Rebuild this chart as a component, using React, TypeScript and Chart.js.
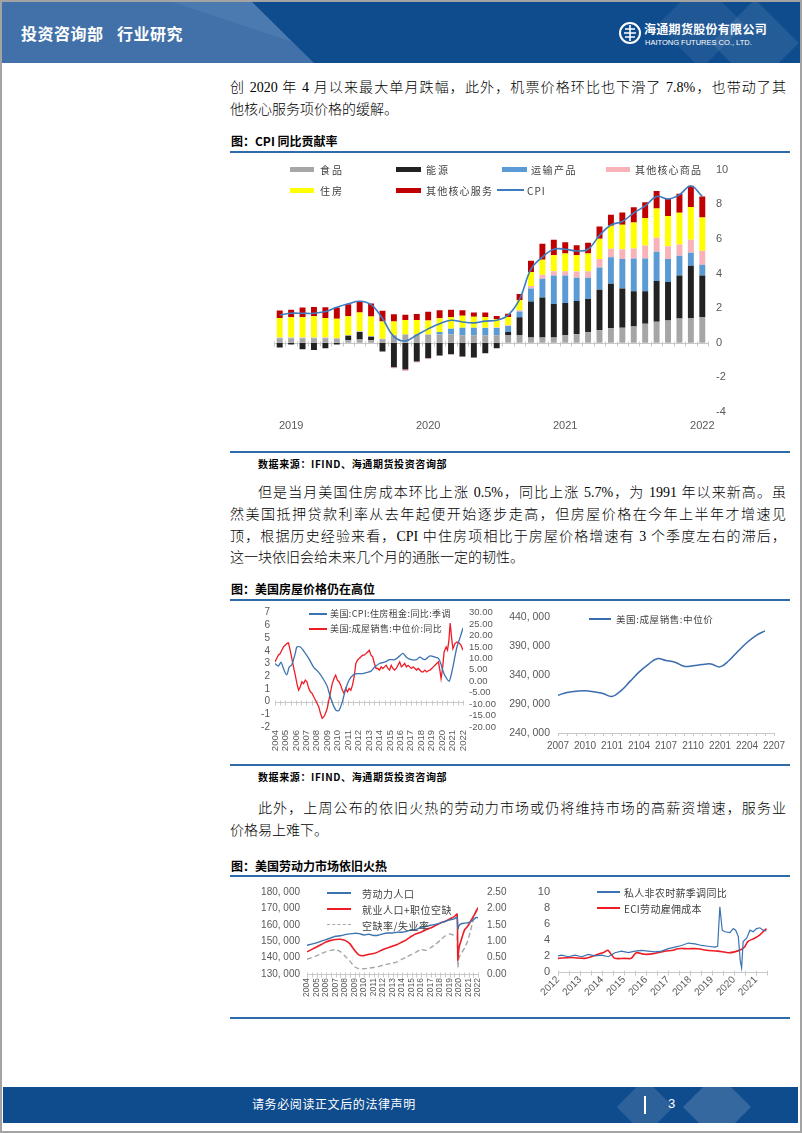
import React, { useEffect, useRef } from 'react';
import { Chart, registerables } from 'chart.js';

Chart.register(...registerables);
Chart.defaults.font.family = '"Liberation Sans", Arial, sans-serif';
Chart.defaults.color = '#595959';

// ---------------- Figure 1: CPI contribution ----------------
const cpiMonths = [
  '2019-06', '2019-07', '2019-08', '2019-09', '2019-10', '2019-11', '2019-12',
  '2020-01', '2020-02', '2020-03', '2020-04', '2020-05', '2020-06', '2020-07', '2020-08', '2020-09', '2020-10', '2020-11', '2020-12',
  '2021-01', '2021-02', '2021-03', '2021-04', '2021-05', '2021-06', '2021-07', '2021-08', '2021-09', '2021-10', '2021-11', '2021-12',
  '2022-01', '2022-02', '2022-03', '2022-04', '2022-05', '2022-06', '2022-07',
];
const foodContrib = [0.25, 0.25, 0.25, 0.25, 0.25, 0.21, 0.15, 0.19, 0.15, 0.19, 0.43, 0.47, 0.47, 0.47, 0.47, 0.47, 0.43, 0.43, 0.43, 0.43, 0.45, 0.45, 0.3, 0.3, 0.3, 0.45, 0.49, 0.6, 0.72, 0.83, 0.87, 0.94, 1.09, 1.21, 1.28, 1.4, 1.43, 1.49];
const energyContrib = [-0.28, -0.1, -0.38, -0.42, -0.32, -0.1, 0.25, 0.43, 0.19, -0.51, -1.42, -1.55, -1.08, -0.89, -0.74, -0.66, -0.79, -0.85, -0.6, -0.32, 0.17, 1.02, 2.08, 2.32, 1.94, 1.85, 1.92, 1.92, 2.34, 2.58, 2.26, 2.04, 1.89, 2.36, 2.23, 2.49, 3.02, 2.4];
const transportContrib = [0.02, 0.02, 0.02, 0.02, 0.02, 0.02, 0.02, 0.02, 0.02, 0.02, 0, 0, 0, 0, 0.15, 0.34, 0.43, 0.43, 0.42, 0.42, 0.34, 0.34, 0.75, 1.08, 1.64, 1.58, 1.34, 1.23, 1.28, 1.53, 1.7, 1.89, 1.89, 1.68, 1.32, 1.13, 0.75, 0.62];
const otherGoodsContrib = [0.03, 0.03, 0.03, 0.03, 0.03, 0.03, 0.03, 0.03, 0.03, 0.02, -0.06, -0.08, -0.06, -0.04, -0.03, -0.02, -0.03, -0.03, 0.02, 0.03, 0.05, 0.06, 0.15, 0.23, 0.25, 0.25, 0.36, 0.38, 0.49, 0.49, 0.57, 0.57, 0.75, 0.81, 0.75, 0.66, 0.75, 0.81];
const housingContrib = [1.13, 1.17, 1.17, 1.23, 1.13, 1.13, 1.08, 1.08, 1.13, 1.0, 0.79, 0.85, 0.85, 0.81, 0.79, 0.66, 0.7, 0.64, 0.62, 0.49, 0.47, 0.6, 0.8, 0.87, 0.92, 1.02, 0.94, 1.02, 1.17, 1.32, 1.42, 1.51, 1.58, 1.7, 1.74, 1.83, 1.89, 1.92];
const otherServicesContrib = [0.43, 0.43, 0.57, 0.53, 0.62, 0.64, 0.7, 0.66, 0.75, 0.62, 0.43, 0.3, 0.34, 0.51, 0.47, 0.43, 0.32, 0.25, 0.25, 0.17, 0.19, 0.34, 0.66, 0.92, 0.9, 0.66, 0.58, 0.62, 0.72, 0.64, 0.7, 0.87, 0.91, 1.0, 1.0, 1.09, 1.23, 1.21];
const cpiYoY = [1.6, 1.7, 1.7, 1.7, 1.8, 2.05, 2.25, 2.4, 2.2, 1.4, 0.35, 0.1, 0.45, 0.8, 1.1, 1.3, 1.2, 1.15, 1.25, 1.3, 1.6, 2.5, 4.25, 4.95, 5.4, 5.4, 5.3, 5.4, 6.2, 6.8, 7.0, 7.5, 7.9, 8.45, 8.3, 8.55, 9.05, 8.45];

// ---------------- Figure 2a: rent CPI vs home price YoY ----------------
const rentDates = [2004.0, 2004.32, 2004.58, 2004.81, 2005.13, 2005.35, 2005.61, 2005.94, 2006.1, 2006.42, 2006.74, 2007.23, 2007.71, 2008.19, 2008.68, 2009.0, 2009.32, 2009.65, 2009.87, 2010.13, 2010.45, 2010.77, 2011.1, 2011.48, 2011.9, 2012.39, 2012.87, 2013.19, 2013.52, 2014.0, 2014.48, 2014.97, 2015.45, 2015.94, 2016.26, 2016.58, 2017.06, 2017.55, 2017.87, 2018.35, 2018.84, 2019.32, 2019.65, 2019.87, 2020.13, 2020.45, 2020.68, 2020.84, 2021.1, 2021.42, 2021.74, 2022.0];
const rentYoY = [3.0, 2.8, 3.1, 2.6, 2.1, 2.7, 2.9, 3.8, 4.3, 4.3, 4.0, 3.4, 2.7, 2.3, 1.7, 1.2, 0.3, -0.4, -0.7, -0.7, 0.0, 1.0, 1.7, 2.1, 2.2, 2.2, 2.3, 2.4, 2.7, 3.0, 3.1, 3.3, 3.3, 3.6, 3.8, 3.5, 3.3, 3.3, 3.5, 3.3, 3.6, 3.5, 3.4, 3.0, 2.3, 1.8, 1.6, 2.0, 3.0, 4.3, 5.1, 5.8];
const homePriceYoYDates = [
  2004.0, 2004.16, 2004.32, 2004.48, 2004.65, 2004.81, 2004.97, 2005.13, 2005.29, 2005.45,
  2005.61, 2005.77, 2005.94, 2006.1, 2006.26, 2006.42, 2006.58, 2006.74, 2006.9, 2007.06,
  2007.23, 2007.39, 2007.55, 2007.71, 2007.87, 2008.03, 2008.19, 2008.35, 2008.52, 2008.68,
  2008.84, 2009.0, 2009.16, 2009.32, 2009.48, 2009.65, 2009.81, 2009.97, 2010.13, 2010.29,
  2010.45, 2010.61, 2010.77, 2010.94, 2011.1, 2011.26, 2011.42, 2011.58, 2011.74, 2011.9,
  2012.06, 2012.23, 2012.39, 2012.55, 2012.71, 2012.87, 2013.03, 2013.19, 2013.35, 2013.52,
  2013.68, 2013.84, 2014.0, 2014.16, 2014.32, 2014.48, 2014.65, 2014.81, 2014.97, 2015.13,
  2015.29, 2015.45, 2015.61, 2015.77, 2015.94, 2016.1, 2016.26, 2016.42, 2016.58, 2016.74,
  2016.9, 2017.06, 2017.23, 2017.39, 2017.55, 2017.71, 2017.87, 2018.03, 2018.19, 2018.35,
  2018.52, 2018.68, 2018.84, 2019.0, 2019.16, 2019.32, 2019.48, 2019.65, 2019.81,
  2019.9, 2020.06, 2020.19, 2020.39, 2020.52, 2020.65, 2020.77, 2020.9, 2021.03, 2021.23, 2021.42, 2021.61, 2021.81, 2022.0,
];
const homePriceYoY = [
  8.5, 10, 11.4, 12, 13.6, 15, 15.8, 16.5, 16.8, 13.6,
  10, 6.3, 2.7, -1, -3.9, -2.4, -0.2, -1, 0.5, -0.2,
  -3.1, -4.6, -5.3, -6.8, -8.2, -9.7, -11.1, -14, -16.2, -15.5,
  -14, -11.9, -8.2, -4.6, -1, 1.2, 2.7, 0.5, -0.2, -1.7,
  -3.9, -5.3, -3.1, -4.6, -3.1, -3.9, -1.7, 2, 7.8, 9.2,
  10, 10.7, 11.4, 11.4, 12.1, 12.8, 13.6, 11.4, 10.7, 7.8,
  5.6, 5.6, 4.9, 6.3, 5.6, 6.3, 7, 5.6, 4.9, 7,
  5.6, 4.9, 5.6, 7, 8.5, 6.3, 7, 7.8, 6.3, 7,
  6.3, 5.6, 6.3, 5.6, 4.9, 5.6, 4.9, 4.1, 4.1, 4.9,
  4.1, 4.6, 4.9, 5.6, 6.3, 7, 7.8, 8.5, 4.1,
  1.2, 6.3, 12.8, 15, 13.6, 17.9, 25.5, 19.4, 14.3, 16.5, 17.2, 16.8, 15.8, 13.6,
];

// ---------------- Figure 2b: median existing home price ----------------
const priceMonths = ['2007', '2008', '2009', '2010', '2011', '2012', '2101', '2102', '2103', '2104', '2105', '2106', '2107', '2108', '2109', '2110', '2111', '2112', '2201', '2202', '2203', '2204', '2205', '2206', '2207'];
const medianPrice = [305000, 310000, 312000, 313000, 311000, 308000, 303000, 313000, 329000, 345000, 358000, 368000, 365000, 362000, 355000, 356000, 358000, 359000, 354000, 365000, 381000, 396000, 408000, 416000];

// ---------------- Figure 3a: labor force ----------------
const laborDates = [2004, 2004.5, 2005, 2005.5, 2006, 2006.5, 2007, 2007.5, 2008, 2008.5, 2009, 2009.5, 2010, 2010.5, 2011, 2011.5, 2012, 2012.5, 2013, 2013.5, 2014, 2014.5, 2015, 2015.5, 2016, 2016.5, 2017, 2017.5, 2018, 2018.5, 2019, 2019.5, 2019.8, 2019.88, 2020, 2020.3, 2020.6, 2020.9, 2021.2, 2021.5, 2021.8, 2022];
const laborForce = [147500, 148200, 149000, 150000, 151000, 152000, 153000, 153300, 154000, 154500, 154800, 154600, 153800, 154200, 153500, 153600, 154500, 155000, 155000, 155500, 155500, 156000, 157000, 157200, 158500, 159000, 159700, 160200, 161000, 162000, 163000, 163600, 164600, 157500, 159500, 160800, 161000, 161200, 161800, 163000, 164500, 164200];
const employedPlusOpenings = [143500, 145000, 146500, 148000, 149500, 150500, 151000, 151200, 150500, 148500, 144500, 141500, 141200, 142000, 142500, 143500, 145000, 146000, 147000, 148000, 149500, 151000, 153000, 154500, 155500, 157000, 158000, 159500, 161000, 162000, 163500, 165000, 166500, 138500, 146000, 152000, 157000, 159000, 162000, 165000, 168000, 170500];
const vacancyToUnemp = [0.45, 0.5, 0.55, 0.62, 0.68, 0.72, 0.74, 0.68, 0.55, 0.4, 0.22, 0.16, 0.16, 0.18, 0.2, 0.22, 0.27, 0.3, 0.33, 0.37, 0.45, 0.52, 0.6, 0.67, 0.75, 0.72, 0.8, 0.9, 1.02, 1.15, 1.22, 1.18, 1.15, 0.2, 0.5, 0.65, 0.8, 1.0, 1.3, 1.65, 1.95, 2.0];

// ---------------- Figure 3b: wages ----------------
const wageDates = [2012.0, 2012.17, 2012.47, 2012.77, 2013.08, 2013.38, 2013.68, 2013.98, 2014.29, 2014.59, 2014.89, 2015.2, 2015.5, 2015.8, 2016.1, 2016.41, 2016.71, 2017.02, 2017.32, 2017.62, 2017.92, 2018.23, 2018.53, 2018.83, 2019.14, 2019.26, 2019.36, 2019.47, 2019.59, 2019.82, 2019.97, 2020.08, 2020.2, 2020.29, 2020.35, 2020.42, 2020.58, 2020.73, 2020.88, 2021.03, 2021.18, 2021.33, 2021.48];
const hourlyEarningsYoY = [2.0, 2.1, 1.9, 2.1, 1.9, 2.2, 2.0, 2.1, 1.9, 2.4, 2.6, 2.4, 2.6, 2.7, 2.6, 2.5, 2.6, 2.9, 3.1, 3.3, 3.6, 3.5, 3.3, 3.2, 3.1, 3.2, 8.1, 5.2, 5.0, 4.9, 5.4, 5.2, 4.4, 1.4, 0.5, 3.8, 4.2, 5.2, 5.0, 5.4, 5.5, 5.2, 5.1];
const eciDates = [2012.0, 2012.61, 2013.21, 2013.52, 2013.82, 2014.12, 2014.27, 2014.42, 2014.58, 2015.03, 2015.33, 2015.56, 2015.94, 2016.39, 2016.85, 2017.23, 2017.45, 2017.91, 2018.36, 2018.74, 2019.27, 2019.73, 2020.03, 2020.33, 2020.48, 2020.64, 2020.94, 2021.17, 2021.32, 2021.48];
const eciYoY = [1.7, 1.8, 1.7, 1.9, 2.2, 2.5, 2.7, 2.2, 1.7, 1.7, 1.7, 2.4, 2.2, 2.3, 2.6, 2.7, 2.9, 2.9, 2.9, 2.7, 2.6, 2.4, 2.5, 2.8, 3.1, 3.8, 4.2, 4.6, 5.0, 5.4];

// ---------------- helpers ----------------
const SERIF = '"Liberation Serif", "Noto Sans CJK SC", serif';
const CJK = '"Noto Sans CJK SC", "Liberation Sans", sans-serif';
const AXIS_GREY = '#595959';
const RULE = '#2f6aa9';

const pts = (xs: number[], ys: number[]) => ys.map((y, i) => ({ x: xs[i], y }));
const thousands = (v: number) => {
  const s = String(Math.round(v));
  return s.slice(0, -3) + ', ' + s.slice(-3);
};
const stepsBetween = (a: number, b: number, step: number) => {
  const out: number[] = [];
  for (let v = a; v <= b + 1e-9; v += step) out.push(v);
  return out;
};

function baseline(yId: string, yValue: number, marks: number[], color = '#c8c8c8', up = 2, down = 3) {
  return {
    id: 'baseline',
    beforeDatasetsDraw(chart: any) {
      const { ctx, chartArea, scales } = chart;
      const y = Math.round(scales[yId].getPixelForValue(yValue)) + 0.5;
      ctx.save();
      ctx.strokeStyle = color;
      ctx.lineWidth = 1;
      ctx.beginPath();
      ctx.moveTo(chartArea.left, y);
      ctx.lineTo(chartArea.right, y);
      for (const m of marks) {
        const x = Math.round(scales.x.getPixelForValue(m)) + 0.5;
        ctx.moveTo(x, y - up);
        ctx.lineTo(x, y + down);
      }
      ctx.stroke();
      ctx.restore();
    },
  };
}

function ChartCanvas({ left, top, width, height, make }: { left: number; top: number; width: number; height: number; make: () => any }) {
  const ref = useRef<HTMLCanvasElement | null>(null);
  useEffect(() => {
    if (!ref.current) return;
    const chart = new Chart(ref.current, make());
    return () => chart.destroy();
  }, []);
  return (
    <div style={{ position: 'absolute', left, top, width, height }}>
      <canvas ref={ref} />
    </div>
  );
}

type TxtProps = {
  x: number; y: number; size: number; children: React.ReactNode; color?: string; weight?: number;
  family?: string; spacing?: number; width?: number; justify?: boolean;
};
function Txt({ x, y, size, children, color = '#000', weight = 400, family = SERIF, spacing = 0, width, justify }: TxtProps) {
  const lh = Math.round(size * 1.5);
  return (
    <div
      style={{
        position: 'absolute', left: x, top: y - lh / 2, height: lh, lineHeight: `${lh}px`, fontSize: size,
        color, fontWeight: weight, fontFamily: family, letterSpacing: spacing, width,
        whiteSpace: justify ? 'normal' : 'nowrap', textAlign: justify ? 'justify' : 'left',
        textAlignLast: justify ? 'justify' : 'auto', overflow: 'visible',
      } as React.CSSProperties}
    >
      {children}
    </div>
  );
}

function Swatch({ x, y, w, kind, color }: { x: number; y: number; w: number; kind: 'bar' | 'line' | 'dash'; color: string }) {
  if (kind === 'bar') return <div style={{ position: 'absolute', left: x, top: y - 2.5, width: w, height: 5, background: color }} />;
  if (kind === 'line') return <div style={{ position: 'absolute', left: x, top: y - 1, width: w, height: 1.6, background: color }} />;
  return <div style={{ position: 'absolute', left: x, top: y - 1, width: w, height: 0, borderTop: `1.6px dashed ${color}` }} />;
}

function Rule({ y }: { y: number }) {
  return <div style={{ position: 'absolute', left: 230, top: y - 1, width: 560, height: 2, background: RULE }} />;
}

// ---------------- chart configs ----------------
const tickFont = (size: number) => ({ size, family: '"Liberation Sans", Arial, sans-serif' });
const noGrid = { display: false, drawTicks: false };

function makeCpiChart() {
  const barDs = (label: string, data: number[], color: string) => ({
    type: 'bar', label, data, backgroundColor: color, stack: 'contrib', order: 1,
    barPercentage: 0.52, categoryPercentage: 1,
  });
  return {
    type: 'bar',
    data: {
      labels: cpiMonths,
      datasets: [
        { type: 'line', label: 'CPI', data: cpiYoY, borderColor: '#3d7cc0', borderWidth: 1.6, pointRadius: 0, tension: 0.4, stack: 'cpi', order: 0, fill: false },
        barDs('食品', foodContrib, '#a6a6a6'),
        barDs('能源', energyContrib, '#222222'),
        barDs('运输产品', transportContrib, '#5b9bd5'),
        barDs('其他核心商品', otherGoodsContrib, '#f7b3b8'),
        barDs('住房', housingContrib, '#ffff00'),
        barDs('其他核心服务', otherServicesContrib, '#c00000'),
      ],
    },
    options: {
      animation: false, responsive: true, maintainAspectRatio: false,
      layout: { padding: { left: 44, top: 9, right: 52, bottom: 0 } },
      plugins: { legend: { display: false }, tooltip: { enabled: false } },
      scales: {
        x: {
          stacked: true, grid: noGrid, border: { display: false },
          ticks: {
            autoSkip: false, maxRotation: 0, minRotation: 0, padding: 7, color: AXIS_GREY, font: tickFont(11),
            callback: (_v: any, i: number) => (cpiMonths[i].endsWith('-07') ? cpiMonths[i].slice(0, 4) : ''),
          },
          afterFit: (s: any) => { s.height = 31; },
        },
        y: {
          position: 'right', stacked: true, min: -4, max: 10,
          ticks: { stepSize: 2, autoSkip: false, padding: 8, color: AXIS_GREY, font: tickFont(11) },
          grid: noGrid, border: { display: false },
          afterFit: (s: any) => { s.width = 30; },
        },
      },
    },
    plugins: [baseline('y', 0, cpiMonths.map((_m, i) => i - 0.5).concat([cpiMonths.length - 0.5]))],
  };
}

function makeRentChart() {
  return {
    type: 'line',
    data: {
      datasets: [
        { label: '美国:CPI:住房租金:同比:季调', data: pts(rentDates, rentYoY), yAxisID: 'y', borderColor: '#3a73b0', borderWidth: 1.3, pointRadius: 0, tension: 0.3 },
        { label: '美国:成屋销售:中位价:同比', data: pts(homePriceYoYDates, homePriceYoY), yAxisID: 'y1', borderColor: '#ee1c25', borderWidth: 1.3, pointRadius: 0, tension: 0 },
      ],
    },
    options: {
      animation: false, responsive: true, maintainAspectRatio: false,
      layout: { padding: { left: 5, top: 11, right: 0, bottom: 0 } },
      plugins: { legend: { display: false }, tooltip: { enabled: false } },
      scales: {
        x: {
          type: 'linear', min: 2004, max: 2022, grid: noGrid, border: { display: false },
          ticks: { stepSize: 1, autoSkip: false, includeBounds: false, minRotation: 90, maxRotation: 90, padding: 3, color: AXIS_GREY, font: tickFont(9.5), callback: (v: any) => String(v) },
          afterFit: (s: any) => { s.height = 34; },
        },
        y: {
          position: 'left', min: -2, max: 7, grid: noGrid, border: { display: false },
          ticks: { stepSize: 1, autoSkip: false, padding: 5, color: AXIS_GREY, font: tickFont(10) },
          afterFit: (s: any) => { s.width = 40; },
        },
        y1: {
          position: 'right', min: -20, max: 30, grid: noGrid, border: { display: false },
          ticks: { stepSize: 5, autoSkip: false, padding: 6, color: AXIS_GREY, font: tickFont(9.5), callback: (v: any) => Number(v).toFixed(2) },
          afterFit: (s: any) => { s.width = 37; },
        },
      },
    },
    plugins: [baseline('y', 0, stepsBetween(2004, 2022, 0.5))],
  };
}

function makePriceChart() {
  return {
    type: 'line',
    data: {
      labels: priceMonths,
      datasets: [
        { label: '美国:成屋销售:中位价', data: medianPrice, borderColor: '#3a6cae', borderWidth: 1.5, pointRadius: 0, tension: 0.4 },
      ],
    },
    options: {
      animation: false, responsive: true, maintainAspectRatio: false,
      layout: { padding: { left: 0, top: 16, right: 16, bottom: 0 } },
      plugins: { legend: { display: false }, tooltip: { enabled: false } },
      scales: {
        x: {
          offset: false,
          grid: { display: true, drawOnChartArea: false, drawTicks: true, tickLength: 3, color: '#c8c8c8' },
          border: { display: true, color: '#c8c8c8' },
          ticks: { autoSkip: false, maxRotation: 0, minRotation: 0, padding: 4, color: AXIS_GREY, font: tickFont(10), callback: (_v: any, i: number) => (i % 3 === 0 ? priceMonths[i] : '') },
          afterFit: (s: any) => { s.height = 28; },
        },
        y: {
          min: 240000, max: 440000, grid: noGrid, border: { display: false },
          ticks: { stepSize: 50000, autoSkip: false, padding: 8, color: AXIS_GREY, font: tickFont(10.5), callback: (v: any) => thousands(Number(v)) },
          afterFit: (s: any) => { s.width = 58; },
        },
      },
    },
  };
}

function makeLaborChart() {
  return {
    type: 'line',
    data: {
      datasets: [
        { label: '劳动力人口', data: pts(laborDates, laborForce), yAxisID: 'y', borderColor: '#3a73b0', borderWidth: 1.4, pointRadius: 0, tension: 0.2 },
        { label: '就业人口+职位空缺', data: pts(laborDates, employedPlusOpenings), yAxisID: 'y', borderColor: '#ee1c25', borderWidth: 1.6, pointRadius: 0, tension: 0.2 },
        { label: '空缺率/失业率', data: pts(laborDates, vacancyToUnemp), yAxisID: 'y1', borderColor: '#a6a6a6', borderWidth: 1.4, borderDash: [5, 3], pointRadius: 0, tension: 0.2 },
      ],
    },
    options: {
      animation: false, responsive: true, maintainAspectRatio: false,
      layout: { padding: { left: 5, top: 15, right: 0, bottom: 0 } },
      plugins: { legend: { display: false }, tooltip: { enabled: false } },
      scales: {
        x: {
          type: 'linear', min: 2004, max: 2022, grid: noGrid, border: { display: false },
          ticks: { stepSize: 1, autoSkip: false, includeBounds: false, minRotation: 90, maxRotation: 90, padding: 4, color: AXIS_GREY, font: tickFont(8.5), callback: (v: any) => String(v) },
          afterFit: (s: any) => { s.height = 41; },
        },
        y: {
          position: 'left', min: 130000, max: 180000, grid: noGrid, border: { display: false },
          ticks: { stepSize: 10000, autoSkip: false, padding: 7, color: AXIS_GREY, font: tickFont(10), callback: (v: any) => thousands(Number(v)) },
          afterFit: (s: any) => { s.width = 72; },
        },
        y1: {
          position: 'right', min: 0, max: 2.5, grid: noGrid, border: { display: false },
          ticks: { stepSize: 0.5, autoSkip: false, padding: 9, color: AXIS_GREY, font: tickFont(10), callback: (v: any) => Number(v).toFixed(2) },
          afterFit: (s: any) => { s.width = 47; },
        },
      },
    },
    plugins: [baseline('y', 130000, stepsBetween(2004, 2022, 0.5))],
  };
}

function makeWageChart() {
  return {
    type: 'line',
    data: {
      datasets: [
        { label: '私人非农时薪季调同比', data: pts(wageDates, hourlyEarningsYoY), borderColor: '#3a73b0', borderWidth: 1.2, pointRadius: 0, tension: 0 },
        { label: 'ECI劳动雇佣成本', data: pts(eciDates, eciYoY), borderColor: '#ee1c25', borderWidth: 1.6, pointRadius: 0, tension: 0.3 },
      ],
    },
    options: {
      animation: false, responsive: true, maintainAspectRatio: false,
      layout: { padding: { left: 5, top: 12, right: 22, bottom: 0 } },
      plugins: { legend: { display: false }, tooltip: { enabled: false } },
      scales: {
        x: {
          type: 'linear', min: 2012, max: 2021.55, grid: noGrid, border: { display: false },
          afterBuildTicks: (s: any) => { s.ticks = s.ticks.filter((t: any) => Number.isInteger(t.value)); },
          ticks: { stepSize: 1, autoSkip: false, includeBounds: false, minRotation: 45, maxRotation: 45, padding: 2, color: AXIS_GREY, font: tickFont(10), callback: (v: any) => String(v) },
          afterFit: (s: any) => { s.height = 43; },
        },
        y: {
          min: 0, max: 10, grid: noGrid, border: { display: false },
          ticks: { stepSize: 2, autoSkip: false, padding: 8, color: AXIS_GREY, font: tickFont(11) },
          afterFit: (s: any) => { s.width = 28; },
        },
      },
    },
    plugins: [baseline('y', 0, stepsBetween(2012, 2021.5, 0.5))],
  };
}

// ---------------- page ----------------
function Header() {
  return (
    <div style={{ position: 'absolute', left: 2, top: 2, width: 798, height: 61, background: '#0f4c8d', overflow: 'hidden' }}>
      <div style={{ position: 'absolute', left: 0, top: 0, width: 330, height: 61, background: '#4171a8', clipPath: 'polygon(0 0, 250px 0, 312px 100%, 0 100%)' }} />
      <div style={{ position: 'absolute', left: 0, top: 0, width: 330, height: 61, background: '#4a7aaf', clipPath: 'polygon(170px 0, 250px 0, 290px 40px)' }} />
      <div style={{ position: 'absolute', left: 668, top: -8, width: 62, height: 62, background: 'rgba(255,255,255,0.07)', transform: 'rotate(45deg)' }} />
      <div style={{ position: 'absolute', left: 722, top: 10, width: 62, height: 62, background: 'rgba(255,255,255,0.09)', transform: 'rotate(45deg)' }} />
      <Txt x={19} y={31} size={16} weight={700} color="#fff" family={CJK} spacing={0.5}>投资咨询部</Txt>
      <Txt x={115} y={31} size={16} weight={700} color="#fff" family={CJK} spacing={0.5}>行业研究</Txt>
      <svg style={{ position: 'absolute', left: 616, top: 19 }} width={24} height={24} viewBox="0 0 24 24">
        <circle cx="12" cy="12" r="10" fill="none" stroke="#fff" strokeWidth="2" />
        <path d="M12 4 V20 M7 8 H17 M6 12 H18 M7 16 H17" stroke="#fff" strokeWidth="1.6" fill="none" />
      </svg>
      <Txt x={642} y={27} size={12} weight={700} color="#fff" family={CJK} spacing={0.3}>海通期货股份有限公司</Txt>
      <Txt x={643} y={40} size={7.5} color="#fff" family='"Liberation Sans", Arial, sans-serif'>HAITONG FUTURES CO., LTD.</Txt>
    </div>
  );
}

function Footer() {
  return (
    <div style={{ position: 'absolute', left: 3, top: 1087, width: 795, height: 36, background: '#0f4c8d', overflow: 'hidden' }}>
      <div style={{ position: 'absolute', left: 622, top: 0, width: 40, height: 40, background: 'rgba(255,255,255,0.12)', transform: 'rotate(45deg)' }} />
      <div style={{ position: 'absolute', left: 690, top: -4, width: 48, height: 48, background: 'rgba(255,255,255,0.16)', transform: 'rotate(45deg)' }} />
      <Txt x={249} y={17} size={12} color="#fff" family={CJK} spacing={0.6}>请务必阅读正文后的法律声明</Txt>
      <div style={{ position: 'absolute', left: 641, top: 9, width: 1.5, height: 18, background: '#fff' }} />
      <Txt x={665} y={17} size={13} color="#fff" family='"Liberation Sans", Arial, sans-serif'>3</Txt>
    </div>
  );
}

export default function App() {
  const P = 14;
  const R = 786;
  const PW = 300;
  return (
    <div style={{ position: 'absolute', left: 0, top: 0, width: 802, height: 1133, background: '#fff', overflow: 'hidden' }}>
      <Header />

      {/* paragraph 1 */}
      <Txt x={230} y={87} size={P} weight={PW} width={R - 230} justify>创 2020 年 4 月以来最大单月跌幅，此外，机票价格环比也下滑了 7.8%，也带动了其</Txt>
      <Txt x={230} y={109} size={P} weight={PW}>他核心服务项价格的缓解。</Txt>

      {/* figure 1 */}
      <Txt x={231} y={141} size={12} weight={700} family={CJK}>图：CPI 同比贡献率</Txt>
      <Rule y={152} />
      <ChartCanvas left={230} top={155} width={560} height={288} make={makeCpiChart} />
      <Swatch x={290} y={169} w={24} kind="bar" color="#a6a6a6" />
      <Txt x={320} y={169} size={10} family={CJK} color="#404040" spacing={2}>食品</Txt>
      <Swatch x={396} y={169} w={25} kind="bar" color="#222222" />
      <Txt x={426} y={169} size={10} family={CJK} color="#404040" spacing={2}>能源</Txt>
      <Swatch x={502} y={169} w={25} kind="bar" color="#5b9bd5" />
      <Txt x={531} y={169} size={10} family={CJK} color="#404040" spacing={1.5}>运输产品</Txt>
      <Swatch x={606} y={169} w={24} kind="bar" color="#f7b3b8" />
      <Txt x={635} y={169} size={10} family={CJK} color="#404040" spacing={1.2}>其他核心商品</Txt>
      <Swatch x={290} y={190} w={24} kind="bar" color="#ffff00" />
      <Txt x={320} y={190} size={10} family={CJK} color="#404040" spacing={2}>住房</Txt>
      <Swatch x={396} y={190} w={25} kind="bar" color="#c00000" />
      <Txt x={426} y={190} size={10} family={CJK} color="#404040" spacing={1.2}>其他核心服务</Txt>
      <Swatch x={497} y={190} w={27} kind="line" color="#3d7cc0" />
      <Txt x={527} y={190} size={10} family={CJK} color="#404040" spacing={1}>CPI</Txt>
      <Rule y={452} />
      <Txt x={258} y={463} size={10} weight={700} family={CJK} spacing={0.6}>数据来源：IFIND、海通期货投资咨询部</Txt>

      {/* paragraph 2 */}
      <Txt x={258} y={492} size={P} weight={PW} width={R - 258} justify>但是当月美国住房成本环比上涨 0.5%，同比上涨 5.7%，为 1991 年以来新高。虽</Txt>
      <Txt x={230} y={514} size={P} weight={PW} width={R - 230} justify>然美国抵押贷款利率从去年起便开始逐步走高，但房屋价格在今年上半年才增速见</Txt>
      <Txt x={230} y={536} size={P} weight={PW} width={R - 230} justify>顶，根据历史经验来看，CPI 中住房项相比于房屋价格增速有 3 个季度左右的滞后，</Txt>
      <Txt x={230} y={557} size={P} weight={PW}>这一块依旧会给未来几个月的通胀一定的韧性。</Txt>

      {/* figure 2 */}
      <Txt x={231} y={589} size={12} weight={700} family={CJK}>图：美国房屋价格仍在高位</Txt>
      <Rule y={600} />
      <ChartCanvas left={230} top={601} width={270} height={160} make={makeRentChart} />
      <Swatch x={309} y={614} w={18} kind="line" color="#3a73b0" />
      <Txt x={330} y={614} size={9} family={CJK} color="#404040" spacing={0.4}>美国:CPI:住房租金:同比:季调</Txt>
      <Swatch x={309} y={629} w={18} kind="line" color="#ee1c25" />
      <Txt x={330} y={629} size={9} family={CJK} color="#404040" spacing={0.4}>美国:成屋销售:中位价:同比</Txt>
      <ChartCanvas left={500} top={601} width={290} height={160} make={makePriceChart} />
      <Swatch x={589} y={619} w={22} kind="line" color="#3a6cae" />
      <Txt x={616} y={619} size={9.5} family={CJK} color="#404040" spacing={0.6}>美国:成屋销售:中位价</Txt>
      <Rule y={765} />
      <Txt x={258} y={776} size={10} weight={700} family={CJK} spacing={0.6}>数据来源：IFIND、海通期货投资咨询部</Txt>

      {/* paragraph 3 */}
      <Txt x={258} y={808} size={P} weight={PW} width={R - 258} justify>此外，上周公布的依旧火热的劳动力市场或仍将维持市场的高薪资增速，服务业</Txt>
      <Txt x={230} y={830} size={P} weight={PW}>价格易上难下。</Txt>

      {/* figure 3 */}
      <Txt x={231} y={866} size={12} weight={700} family={CJK}>图：美国劳动力市场依旧火热</Txt>
      <Rule y={876} />
      <ChartCanvas left={230} top={877} width={295} height={138} make={makeLaborChart} />
      <Swatch x={327} y={893} w={24} kind="line" color="#3a73b0" />
      <Txt x={362} y={893} size={10} family={CJK} color="#404040" spacing={0.5}>劳动力人口</Txt>
      <Swatch x={327} y={909} w={24} kind="line" color="#ee1c25" />
      <Txt x={362} y={909} size={10} family={CJK} color="#404040" spacing={0.5}>就业人口+职位空缺</Txt>
      <Swatch x={327} y={925} w={24} kind="dash" color="#a6a6a6" />
      <Txt x={362} y={925} size={10} family={CJK} color="#404040" spacing={0.5}>空缺率/失业率</Txt>
      <ChartCanvas left={525} top={877} width={265} height={138} make={makeWageChart} />
      <Swatch x={597} y={892} w={23} kind="line" color="#3a73b0" />
      <Txt x={624} y={892} size={10} family={CJK} color="#404040" spacing={0.3}>私人非农时薪季调同比</Txt>
      <Swatch x={597} y={908} w={23} kind="line" color="#ee1c25" />
      <Txt x={624} y={908} size={10} family={CJK} color="#404040" spacing={0.3}>ECI劳动雇佣成本</Txt>
      <Rule y={1018} />

      <Footer />
      <div style={{ position: 'absolute', left: 0, top: 0, width: 802, height: 1133, boxSizing: 'border-box', border: '2px solid #a3a3a3', pointerEvents: 'none' }} />
    </div>
  );
}
